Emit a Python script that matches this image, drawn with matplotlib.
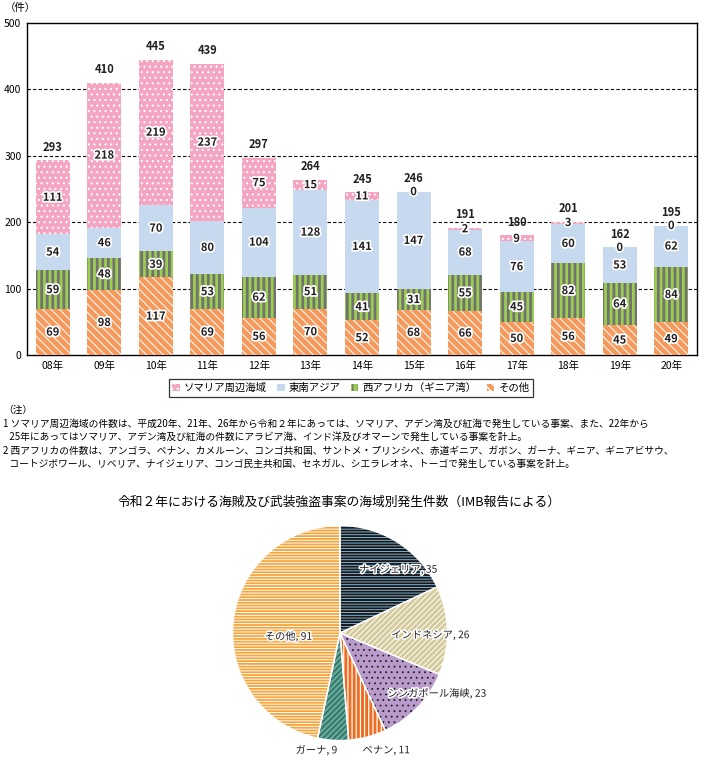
import matplotlib
matplotlib.use("Agg")
import matplotlib.pyplot as plt
import matplotlib.patheffects as pe
import numpy as np

plt.rcParams['font.family'] = ['Noto Sans CJK JP', 'DejaVu Sans']

# ---- data ----
years = ["08年", "09年", "10年", "11年", "12年", "13年", "14年", "15年", "16年", "17年", "18年", "19年", "20年"]
somalia = [111, 218, 219, 237, 75, 15, 11, 0, 2, 9, 3, 0, 0]
se_asia = [54, 46, 70, 80, 104, 128, 141, 147, 68, 76, 60, 53, 62]
w_africa = [59, 48, 39, 53, 62, 51, 41, 31, 55, 45, 82, 64, 84]
others = [69, 98, 117, 69, 56, 70, 52, 68, 66, 50, 56, 45, 49]
series_names = ["ソマリア周辺海域", "東南アジア", "西アフリカ（ギニア湾）", "その他"]
yticks = [0, 100, 200, 300, 400, 500]

pie_labels = ["ナイジェリア", "インドネシア", "シンガポール海峡", "ベナン", "ガーナ", "その他"]
pie_values = [35, 26, 23, 11, 9, 91]

title2 = "令和２年における海賊及び武装強盗事案の海域別発生件数（IMB報告による）"
notes = [
    "（注）",
    "1 ソマリア周辺海域の件数は、平成20年、21年、26年から令和２年にあっては、ソマリア、アデン湾及び紅海で発生している事案、また、22年から",
    "   25年にあってはソマリア、アデン湾及び紅海の件数にアラビア海、インド洋及びオマーンで発生している事案を計上。",
    "2 西アフリカの件数は、アンゴラ、ベナン、カメルーン、コンゴ共和国、サントメ・プリンシペ、赤道ギニア、ガボン、ガーナ、ギニア、ギニアビサウ、",
    "   コートジボワール、リベリア、ナイジェリア、コンゴ民主共和国、セネガル、シエラレオネ、トーゴで発生している事案を計上。",
]

W, H = 702, 760
fig = plt.figure(figsize=(W / 100, H / 100), dpi=100)

# ---- bar chart ----
ax = fig.add_axes([27 / W, 1 - 355 / H, 670 / W, 332 / H])
x = np.arange(len(years))
bw = 0.66
stroke = [pe.withStroke(linewidth=2.5, foreground="white")]

styles = [
    dict(face="#f3a5c2", hatch_col="white", hatch="...", hlw=0.8),
    dict(face="#c6d9ee", hatch_col="#c6d9ee", hatch=None, hlw=1.0),
    dict(face="#9bce4e", hatch_col="#727272", hatch="|||", hlw=2.0),
    dict(face="#f59a5c", hatch_col="white", hatch="\\\\\\\\", hlw=0.7),
]
data_order = [others, w_africa, se_asia, somalia]
style_order = [styles[3], styles[2], styles[1], styles[0]]
name_order = [series_names[3], series_names[2], series_names[1], series_names[0]]

bottom = np.zeros(len(years))
handles = {}
for vals, st, nm in zip(data_order, style_order, name_order):
    vals = np.array(vals, dtype=float)
    with plt.rc_context({"hatch.linewidth": st["hlw"]}):
        bars = ax.bar(x, vals, bw, bottom=bottom, color=st["face"],
                      edgecolor=st["hatch_col"], linewidth=0,
                      hatch=st["hatch"], label=nm, zorder=3)
    handles[nm] = bars
    for xi, b, v in zip(x, bottom, vals):
        ax.text(xi, b + v / 2, f"{int(v)}", ha="center", va="center",
                fontsize=8, fontweight="bold", color="#231f20",
                path_effects=stroke, zorder=5)
    bottom = bottom + vals

for xi, t in zip(x, bottom):
    ax.annotate(f"{int(t)}", (xi, t), xytext=(0, 9.5), textcoords="offset points",
                ha="center", va="center", fontsize=8, fontweight="bold", color="#231f20")

ax.set_xlim(-0.5, len(years) - 0.5)
ax.set_ylim(0, 500)
ax.set_yticks(yticks)
ax.set_yticklabels([str(v) for v in yticks], fontsize=7.5)
ax.set_xticks(x)
ax.set_xticklabels(years, fontsize=7.5)
ax.tick_params(length=0, pad=4)
for yv in yticks[1:-1]:
    ax.axhline(yv, color="black", linestyle=(0, (3, 2)), linewidth=0.8, zorder=1)
for s in ax.spines.values():
    s.set_linewidth(1.0)
    s.set_color("black")
fig.text(5 / W, 1 - 8 / H, "（件）", fontsize=7.5, ha="left", va="center")

leg_handles = [handles[n] for n in series_names]
leg = fig.legend(leg_handles, series_names, loc="center", ncol=4,
                 bbox_to_anchor=(351 / W, 1 - 388 / H), fontsize=7.5,
                 frameon=True, fancybox=False, edgecolor="black",
                 handlelength=0.7, handleheight=0.7, handletextpad=0.4,
                 columnspacing=1.0, borderpad=0.35)
leg.get_frame().set_linewidth(0.9)

# ---- notes ----
ny = [410, 424, 437, 451, 464]
for line, yy in zip(notes, ny):
    fig.text(3 / W, 1 - yy / H, line, fontsize=7.0, ha="left", va="center")

# ---- pie ----
fig.text(339 / W, 1 - 502 / H, title2, fontsize=9.2, ha="center", va="center")

cx, cy, r = 340, 633, 107.5
pax = fig.add_axes([(cx - r) / W, 1 - (cy + r) / H, 2 * r / W, 2 * r / H])
pie_styles = [
    dict(face="#1a1718", hc="#8ccbef", hatch="------", hlw=0.6),
    dict(face="#d5ca9b", hc="white", hatch="//////", hlw=0.7),
    dict(face="#b89bcb", hc="#231f20", hatch="...", hlw=0.6),
    dict(face="#ee6b1f", hc="white", hatch="||||", hlw=0.9),
    dict(face="#5aa898", hc="#2f4f49", hatch="//////", hlw=0.7),
    dict(face="#f7a43a", hc="white", hatch="------", hlw=0.7),
]
wedges, _ = pax.pie(pie_values, startangle=90, counterclock=False, radius=1.0,
                    colors=[s["face"] for s in pie_styles])
for w, s in zip(wedges, pie_styles):
    w.set_edgecolor(s["hc"])
    w.set_hatch(s["hatch"])
    w.set_linewidth(0)
    try:
        w.set_hatch_linewidth(s["hlw"])
    except Exception:
        pass
# white borders between slices
wb, _ = pax.pie(pie_values, startangle=90, counterclock=False, radius=1.0,
                colors=["none"] * len(pie_values),
                wedgeprops=dict(edgecolor="white", linewidth=1.0, fill=False))
pax.set_xlim(-1, 1)
pax.set_ylim(-1, 1)
pax.set_aspect("equal")
pax.axis("off")

label_pos = [(0.54, 0.59), (0.84, -0.02), (0.90, -0.56), (0.43, -1.09), (-0.22, -1.09), (-0.48, -0.03)]
for lab, v, (lx, ly) in zip(pie_labels, pie_values, label_pos):
    pax.text(lx, ly, f"{lab}, {v}", ha="center", va="center", fontsize=7.4,
             color="#231f20", path_effects=[pe.withStroke(linewidth=2.2, foreground="white")],
             clip_on=False, zorder=10)

fig.savefig("out.png", dpi=100)
